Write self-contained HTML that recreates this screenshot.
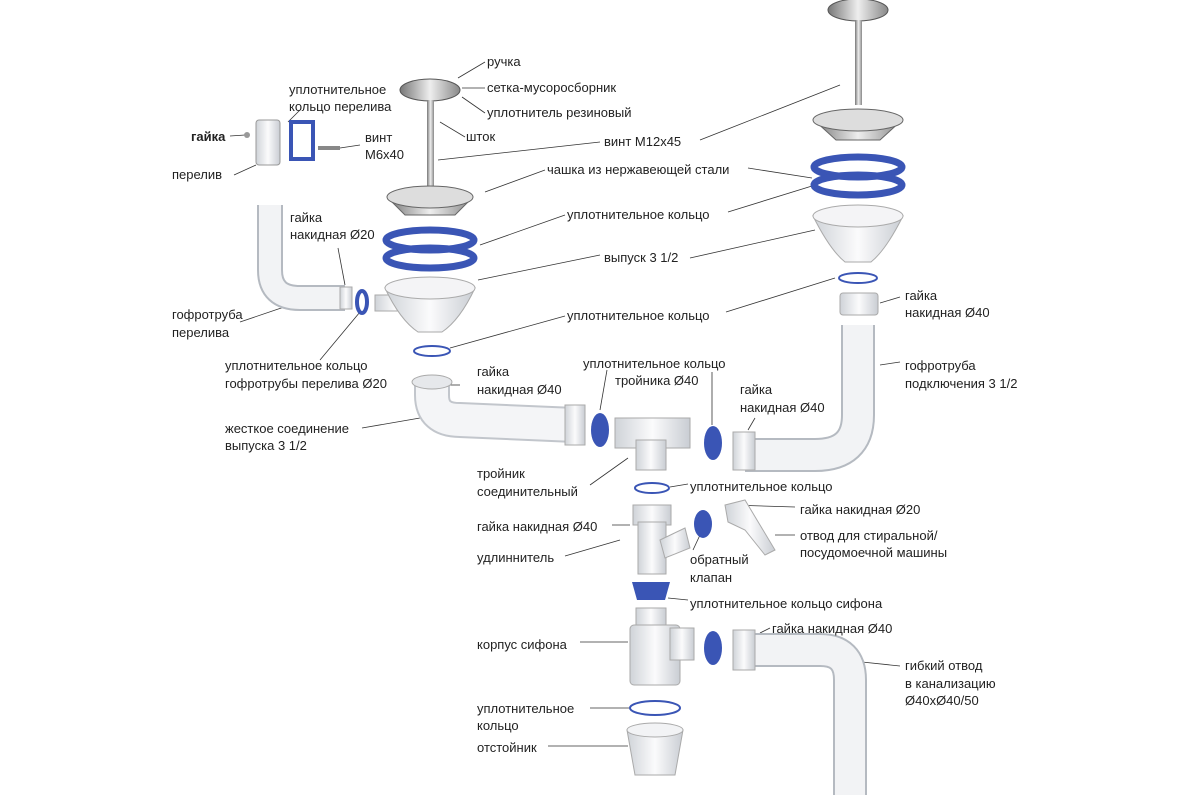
<!DOCTYPE html>
<html><head><meta charset="utf-8"><style>
html,body{margin:0;padding:0;background:#fff}
svg text{font-family:"Liberation Sans","DejaVu Sans",sans-serif;font-size:13px;fill:#222}
</style></head><body>
<svg width="1200" height="800" viewBox="0 0 1200 800" xmlns="http://www.w3.org/2000/svg">
<defs>
<linearGradient id="st" x1="0" x2="1"><stop offset="0" stop-color="#777"/><stop offset=".5" stop-color="#eee"/><stop offset="1" stop-color="#888"/></linearGradient>
<linearGradient id="wp" x1="0" x2="1"><stop offset="0" stop-color="#cfd3d8"/><stop offset=".5" stop-color="#fbfbfc"/><stop offset="1" stop-color="#c9cdd3"/></linearGradient>
</defs>
<g stroke="#333" stroke-width="0.8" fill="none">
<!-- leader lines -->
<path d="M458 78 L485 62"/><path d="M462 88 L485 88"/><path d="M462 97 L485 113"/>
<path d="M440 122 L465 137"/><path d="M438 160 L600 142"/><path d="M700 140 L840 85"/>
<path d="M485 192 L545 170"/><path d="M748 168 L812 178"/><path d="M480 245 L565 215"/>
<path d="M728 212 L812 186"/><path d="M478 280 L600 255"/><path d="M690 258 L815 230"/>
<path d="M450 348 L565 316"/><path d="M726 312 L835 278"/><path d="M880 303 L900 297"/>
<path d="M230 136 L245 135"/><path d="M340 148 L360 145"/><path d="M234 175 L256 165"/>
<path d="M300 110 L288 122"/><path d="M338 248 L345 285"/><path d="M240 322 L290 305"/>
<path d="M320 360 L360 312"/><path d="M460 385 L447 385"/><path d="M607 370 L600 410"/>
<path d="M712 372 L712 425"/><path d="M755 418 L748 430"/><path d="M880 365 L900 362"/>
<path d="M362 428 L420 418"/><path d="M590 485 L628 458"/><path d="M670 487 L688 484"/>
<path d="M730 505 L795 507"/><path d="M775 535 L795 535"/><path d="M612 525 L630 525"/>
<path d="M565 556 L620 540"/><path d="M693 550 L700 535"/><path d="M668 598 L688 600"/>
<path d="M760 633 L770 628"/><path d="M580 642 L628 642"/><path d="M862 662 L900 666"/>
<path d="M590 708 L630 708"/><path d="M548 746 L628 746"/>
</g>
<!-- right column -->
<ellipse cx="858" cy="10" rx="30" ry="11" fill="url(#st)" stroke="#555"/>
<rect x="855" y="20" width="7" height="85" fill="url(#st)"/>
<path d="M814 120 L902 120 L880 140 L836 140Z" fill="url(#st)" stroke="#666"/>
<ellipse cx="858" cy="120" rx="45" ry="11" fill="#ddd" stroke="#666"/>
<ellipse cx="858" cy="167" rx="44" ry="10" fill="none" stroke="#3a55b5" stroke-width="7"/>
<ellipse cx="858" cy="185" rx="44" ry="10" fill="none" stroke="#3a55b5" stroke-width="7"/>
<path d="M813 216 Q830 250 845 262 L871 262 Q886 250 903 216Z" fill="url(#wp)" stroke="#aaa"/>
<ellipse cx="858" cy="216" rx="45" ry="11" fill="#f4f4f6" stroke="#aaa"/>
<ellipse cx="858" cy="278" rx="19" ry="5" fill="none" stroke="#3a55b5" stroke-width="2"/>
<rect x="840" y="293" width="38" height="22" rx="3" fill="url(#wp)" stroke="#aaa"/>
<path d="M858 325 L858 415 Q858 455 815 455 L745 455" fill="none" stroke="#b5bac1" stroke-width="34"/>
<path d="M858 325 L858 415 Q858 455 815 455 L745 455" fill="none" stroke="#f2f3f5" stroke-width="30"/>
<rect x="733" y="432" width="22" height="38" fill="url(#wp)" stroke="#aaa"/>
<!-- left column -->
<ellipse cx="430" cy="90" rx="30" ry="11" fill="url(#st)" stroke="#555"/>
<rect x="427" y="100" width="7" height="88" fill="url(#st)"/>
<path d="M388 198 L472 198 L455 215 L405 215Z" fill="url(#st)" stroke="#666"/>
<ellipse cx="430" cy="197" rx="43" ry="11" fill="#ddd" stroke="#666"/>
<ellipse cx="430" cy="240" rx="44" ry="10" fill="none" stroke="#3a55b5" stroke-width="7"/>
<ellipse cx="430" cy="258" rx="44" ry="10" fill="none" stroke="#3a55b5" stroke-width="7"/>
<rect x="375" y="295" width="40" height="16" fill="url(#wp)" stroke="#aaa"/>
<path d="M385 288 Q400 320 418 332 L442 332 Q460 320 475 288Z" fill="url(#wp)" stroke="#aaa"/>
<ellipse cx="430" cy="288" rx="45" ry="11" fill="#f4f4f6" stroke="#aaa"/>
<ellipse cx="432" cy="351" rx="18" ry="5" fill="none" stroke="#3a55b5" stroke-width="2"/>
<!-- overflow -->
<circle cx="247" cy="135" r="3" fill="#999"/>
<rect x="256" y="120" width="24" height="45" rx="3" fill="url(#wp)" stroke="#999"/>
<rect x="291" y="122" width="22" height="37" fill="none" stroke="#3a55b5" stroke-width="4"/>
<rect x="318" y="146" width="22" height="4" fill="#888"/>
<path d="M270 205 L270 270 Q270 298 300 298 L345 298" fill="none" stroke="#b5bac1" stroke-width="26"/>
<path d="M270 205 L270 270 Q270 298 300 298 L345 298" fill="none" stroke="#f2f3f5" stroke-width="22"/>
<rect x="340" y="287" width="12" height="22" fill="url(#wp)" stroke="#aaa"/>
<ellipse cx="362" cy="302" rx="5" ry="11" fill="none" stroke="#3a55b5" stroke-width="4"/>
<!-- rigid connection -->
<path d="M432 380 L432 395 Q432 420 460 420 L575 425" fill="none" stroke="#c2c6cc" stroke-width="36"/>
<path d="M432 380 L432 395 Q432 420 460 420 L575 425" fill="none" stroke="#f4f5f7" stroke-width="32"/>
<ellipse cx="432" cy="382" rx="20" ry="7" fill="#e6e8eb" stroke="#aaa"/>
<rect x="565" y="405" width="20" height="40" fill="url(#wp)" stroke="#aaa"/>
<ellipse cx="600" cy="430" rx="9" ry="17" fill="#3a55b5"/>
<!-- tee -->
<rect x="615" y="418" width="75" height="30" fill="url(#wp)" stroke="#aaa"/>
<rect x="636" y="440" width="30" height="30" fill="url(#wp)" stroke="#aaa"/>
<ellipse cx="713" cy="443" rx="9" ry="17" fill="#3a55b5"/>
<ellipse cx="652" cy="488" rx="17" ry="5" fill="none" stroke="#3a55b5" stroke-width="2"/>
<!-- extender -->
<rect x="633" y="505" width="38" height="20" fill="url(#wp)" stroke="#aaa"/>
<rect x="638" y="522" width="28" height="52" fill="url(#wp)" stroke="#aaa"/>
<path d="M660 540 L685 528 L690 548 L665 558Z" fill="url(#wp)" stroke="#aaa"/>
<ellipse cx="703" cy="524" rx="9" ry="14" fill="#3a55b5"/>
<path d="M725 505 L745 500 L760 525 L775 550 L765 555 L745 530 L728 522Z" fill="url(#wp)" stroke="#aaa"/>
<!-- siphon -->
<path d="M632 582 L670 582 L665 600 L637 600Z" fill="#3a55b5"/>
<rect x="636" y="608" width="30" height="22" fill="url(#wp)" stroke="#aaa"/>
<rect x="630" y="625" width="50" height="60" rx="4" fill="url(#wp)" stroke="#aaa"/>
<rect x="670" y="628" width="24" height="32" fill="url(#wp)" stroke="#aaa"/>
<ellipse cx="713" cy="648" rx="9" ry="17" fill="#3a55b5"/>
<path d="M745 650 L820 650 Q850 650 850 680 L850 795" fill="none" stroke="#b5bac1" stroke-width="34"/>
<path d="M745 650 L820 650 Q850 650 850 680 L850 795" fill="none" stroke="#f2f3f5" stroke-width="30"/>
<rect x="733" y="630" width="22" height="40" fill="url(#wp)" stroke="#aaa"/>
<ellipse cx="655" cy="708" rx="25" ry="7" fill="none" stroke="#3a55b5" stroke-width="2"/>
<path d="M627 730 L683 730 L675 775 L635 775Z" fill="url(#wp)" stroke="#aaa"/>
<ellipse cx="655" cy="730" rx="28" ry="7" fill="#f2f3f5" stroke="#aaa"/>
<!-- text -->
<text x="487" y="66">ручка</text>
<text x="487" y="92">сетка-мусоросборник</text>
<text x="487" y="117">уплотнитель резиновый</text>
<text x="466" y="141">шток</text>
<text x="604" y="146">винт М12х45</text>
<text x="547" y="174">чашка из нержавеющей стали</text>
<text x="567" y="219">уплотнительное кольцо</text>
<text x="604" y="262">выпуск 3 1/2</text>
<text x="567" y="320">уплотнительное кольцо</text>
<text x="905" y="300">гайка</text><text x="905" y="317">накидная Ø40</text>
<text x="289" y="94">уплотнительное</text><text x="289" y="111">кольцо перелива</text>
<text x="191" y="141" style="font-weight:bold">гайка</text>
<text x="365" y="142">винт</text><text x="365" y="159">М6х40</text>
<text x="172" y="179">перелив</text>
<text x="290" y="222">гайка</text><text x="290" y="239">накидная Ø20</text>
<text x="172" y="319">гофротруба</text><text x="172" y="337">перелива</text>
<text x="225" y="370">уплотнительное кольцо</text><text x="225" y="388">гофротрубы перелива Ø20</text>
<text x="477" y="376">гайка</text><text x="477" y="394">накидная Ø40</text>
<text x="583" y="368">уплотнительное кольцо</text><text x="615" y="385">тройника Ø40</text>
<text x="740" y="394">гайка</text><text x="740" y="412">накидная Ø40</text>
<text x="905" y="370">гофротруба</text><text x="905" y="388">подключения 3 1/2</text>
<text x="225" y="433">жесткое соединение</text><text x="225" y="450">выпуска 3 1/2</text>
<text x="477" y="478">тройник</text><text x="477" y="496">соединительный</text>
<text x="690" y="491">уплотнительное кольцо</text>
<text x="800" y="514">гайка накидная Ø20</text>
<text x="800" y="540">отвод для стиральной/</text><text x="800" y="557">посудомоечной машины</text>
<text x="477" y="531">гайка накидная Ø40</text>
<text x="477" y="562">удлиннитель</text>
<text x="690" y="564">обратный</text><text x="690" y="582">клапан</text>
<text x="690" y="608">уплотнительное кольцо сифона</text>
<text x="772" y="633">гайка накидная Ø40</text>
<text x="477" y="649">корпус сифона</text>
<text x="905" y="670">гибкий отвод</text><text x="905" y="688">в канализацию</text><text x="905" y="705">Ø40хØ40/50</text>
<text x="477" y="713">уплотнительное</text><text x="477" y="730">кольцо</text>
<text x="477" y="752">отстойник</text>
</svg>
</body></html>
